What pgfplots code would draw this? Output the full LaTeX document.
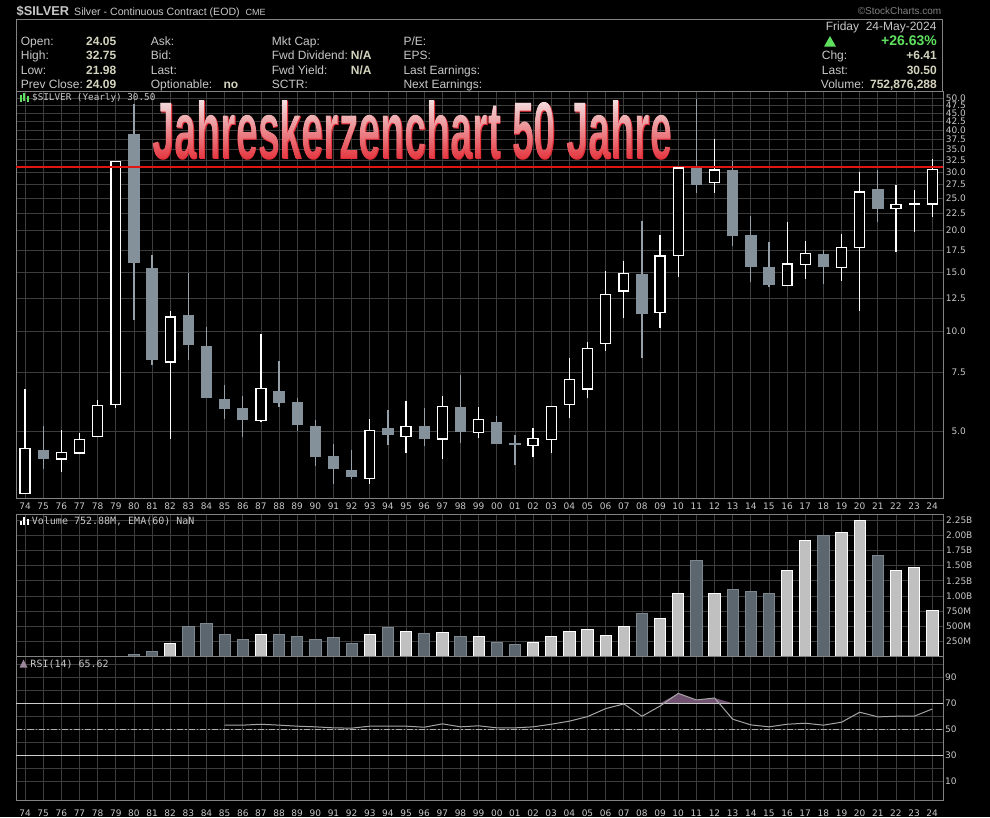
\documentclass[border=0pt]{standalone}
\usepackage{fontspec}
\setmainfont{Liberation Sans}
\newfontfamily\monofont{DejaVu Sans Mono}
\newfontfamily\dejavu{DejaVu Sans}
\usepackage{pgfplots}
\pgfplotsset{compat=1.18}
\usepackage{pgfplotstable}
\usetikzlibrary{fadings}

\definecolor{gridc}{RGB}{60,60,60}
\definecolor{framec}{RGB}{130,130,130}
\definecolor{labc}{RGB}{200,200,200}
\definecolor{valc}{RGB}{212,212,190}
\definecolor{bodyc}{RGB}{132,145,155}
\definecolor{wickc}{RGB}{150,160,168}
\definecolor{volup}{RGB}{192,192,192}
\definecolor{voldn}{RGB}{92,102,110}
\definecolor{voldnedge}{RGB}{125,135,142}
\definecolor{upgreen}{RGB}{95,225,95}
\definecolor{rsic}{RGB}{165,165,165}
\definecolor{rsifill}{RGB}{112,82,112}
\definecolor{refline}{RGB}{205,205,205}
\definecolor{resline}{RGB}{225,20,20}
\definecolor{titlered}{RGB}{228,46,56}
\definecolor{titlemid}{RGB}{234,118,124}
\definecolor{titlepink}{RGB}{242,228,228}

% yearly candles: open high low close, volume in billions
\pgfplotstableread{
yr   o     h     l     c     v
1974 3.25  6.71  3.25  4.44  0
1975 4.40  5.17  3.86  4.13  0
1976 4.13  5.03  3.77  4.31  0
1977 4.30  4.94  4.28  4.72  0
1978 4.81  6.22  4.80  5.98  0
1979 6.01  32.3  5.87  32.2  0
1980 39.0  48.0  10.8  16.0  0.03
1981 15.4  16.9  7.89  8.17  0.08
1982 8.07  11.46 4.73  11.0  0.21
1983 11.15 14.9  8.20  9.06  0.49
1984 9.00  10.3  6.27  6.29  0.54
1985 6.24  6.87  5.42  5.82  0.37
1986 5.85  6.37  4.81  5.39  0.28
1987 5.39  9.82  5.31  6.71  0.37
1988 6.59  8.13  5.92  6.08  0.37
1989 6.10  6.27  5.01  5.21  0.33
1990 5.18  5.39  3.93  4.19  0.28
1991 4.21  4.59  3.47  3.85  0.31
1992 3.82  4.39  3.59  3.65  0.21
1993 3.60  5.43  3.47  5.02  0.36
1994 5.11  5.78  4.54  4.88  0.48
1995 4.82  6.15  4.31  5.17  0.41
1996 5.18  5.86  4.52  4.74  0.38
1997 4.74  6.37  4.12  5.93  0.39
1998 5.90  7.36  4.61  4.97  0.33
1999 4.96  5.90  4.78  5.42  0.33
2000 5.31  5.55  4.57  4.58  0.23
2001 4.60  4.86  3.95  4.55  0.20
2002 4.53  5.11  4.17  4.76  0.24
2003 4.71  5.97  4.31  5.93  0.33
2004 6.01  8.27  5.46  7.15  0.41
2005 6.70  9.23  6.29  8.85  0.44
2006 9.17  15.1  8.71  12.86 0.35
2007 13.18 16.2  10.94 14.86 0.49
2008 14.86 21.3  8.27  11.2  0.71
2009 11.36 19.4  10.2  16.8  0.63
2010 16.85 30.9  14.5  30.8  1.04
2011 30.8  49.8  26.0  27.5  1.59
2012 27.9  37.7  26.0  30.4  1.04
2013 30.4  32.4  18.0  19.3  1.11
2014 19.35 22.1  14.0  15.5  1.07
2015 15.6  18.5  13.5  13.75 1.04
2016 13.7  21.2  13.7  15.9  1.42
2017 15.8  18.6  14.3  17.1  1.92
2018 17.0  17.5  13.8  15.5  2.00
2019 15.5  19.6  14.1  17.8  2.04
2020 17.8  30.0  11.5  26.1  2.24
2021 26.6  30.4  21.2  23.2  1.66
2022 23.3  27.4  17.2  24.0  1.42
2023 23.95 26.4  19.8  24.1  1.47
2024 24.05 32.75 21.98 30.50 0.753
}\silver

\pgfplotstableread{
yr   rsi
1985 53.1
1986 53.1
1987 53.8
1988 53.1
1989 52.3
1990 51.8
1991 51.0
1992 50.8
1993 52.3
1994 52.3
1995 52.3
1996 51.5
1997 54.1
1998 51.8
1999 52.6
2000 51.0
2001 51.0
2002 51.8
2003 53.8
2004 56.2
2005 59.7
2006 65.9
2007 69.5
2008 60.0
2009 67.9
2010 77.7
2011 72.6
2012 74.1
2013 57.7
2014 53.3
2015 51.8
2016 53.8
2017 54.6
2018 53.1
2019 55.4
2020 63.1
2021 59.5
2022 60.0
2023 60.0
2024 65.6
}\rsi

\pgfplotsset{
  panel/.style={
    scale only axis, width=927pt, anchor=south west,
    xmin=1973.5, xmax=2024.59,
    axis background/.style={fill=black},
    axis line style={draw=framec, line width=0.8pt},
    xtick={1974,...,2024},
    grid=major,
    major grid style={draw=gridc, line width=0.6pt},
    minor grid style={draw=gridc, line width=0.6pt},
    tick style={draw=none}, major tick length=0pt, minor tick length=0pt,
    yticklabel pos=right,
    ticklabel style={font=\dejavu\fontsize{9}{9}\selectfont, text=labc, inner sep=0pt},
    /pgf/number format/assume math mode=true,
  },
  years/.style={
    xticklabels={74,75,76,77,78,79,80,81,82,83,84,85,86,87,88,89,90,91,92,93,94,95,96,97,98,99,00,01,02,03,04,05,06,07,08,09,10,11,12,13,14,15,16,17,18,19,20,21,22,23,24},
    xticklabel style={yshift=-5pt},
  },
  up/.style={restrict expr to domain={\thisrow{c}-\thisrow{o}}{0:1000}},
  down/.style={restrict expr to domain={\thisrow{o}-\thisrow{c}}{0:1000}},
  cap/.style={up, only marks, mark=-, mark size=5.65pt, mark options={draw=white, line width=1.4pt}},
}

\newcommand\titletext{\resizebox{519pt}{58.4pt}{\bfseries Jahreskerzenchart 50 Jahre}}

\begin{tikzfadingfrompicture}[name=titlefade]
  \node[inner sep=0pt, text=transparent!0] {\titletext};
\end{tikzfadingfrompicture}

\begin{document}
\begin{tikzpicture}[x=1pt,y=1pt]
\path[use as bounding box] (0,0) rectangle (990,817);
\fill[black] (0,0) rectangle (990,817);

% header
\node[anchor=base west, inner sep=0pt, text=labc, font=\bfseries\fontsize{12.8}{13}\selectfont] at (16.5,801) {\$SILVER};
\node[anchor=base west, inner sep=0pt, text=labc, font=\fontsize{10.6}{11}\selectfont] at (74,801) {Silver - Continuous Contract (EOD)};
\node[anchor=base west, inner sep=0pt, text=labc, font=\fontsize{9}{9}\selectfont] at (245.5,801) {CME};
\node[anchor=base east, inner sep=0pt, text=framec, font=\fontsize{10}{10}\selectfont] at (941.5,802) {©StockCharts.com};
\draw[framec, line width=0.8pt] (16,726) rectangle (942.5,797.7);

\begin{scope}[every node/.style={anchor=base west, inner sep=0pt, text=labc, font=\fontsize{12}{12}\selectfont}]
\node at (20.7,771) {Open:};
\node at (20.7,757) {High:};
\node at (20.7,742.7) {Low:};
\node at (20.7,728.3) {Prev Close:};
\node at (150.7,771) {Ask:};
\node at (150.7,757) {Bid:};
\node at (150.7,742.7) {Last:};
\node at (150.7,728.3) {Optionable:};
\node at (271.7,771) {Mkt Cap:};
\node at (271.7,757) {Fwd Dividend:};
\node at (271.7,742.7) {Fwd Yield:};
\node at (271.7,728.3) {SCTR:};
\node at (403.3,771) {P/E:};
\node at (403.3,757) {EPS:};
\node at (403.3,742.7) {Last Earnings:};
\node at (403.3,728.3) {Next Earnings:};
\node at (821.7,757) {Chg:};
\node at (821.7,742.7) {Last:};
\node at (820.7,728.3) {Volume:};
\end{scope}
\begin{scope}[every node/.style={anchor=base west, inner sep=0pt, text=valc, font=\bfseries\fontsize{12}{12}\selectfont}]
\node at (86,771) {24.05};
\node at (86,757) {32.75};
\node at (86,742.7) {21.98};
\node at (86,728.3) {24.09};
\node at (223.3,728.3) {no};
\node at (350.7,757) {N/A};
\node at (350.7,742.7) {N/A};
\end{scope}
\begin{scope}[every node/.style={anchor=base east, inner sep=0pt, text=valc, font=\bfseries\fontsize{12}{12}\selectfont}]
\node at (937,757) {+6.41};
\node at (937,742.7) {30.50};
\node at (937,728.3) {752,876,288};
\end{scope}
\node[anchor=base east, inner sep=0pt, text=labc, font=\fontsize{12}{12}\selectfont] at (936.7,786.3) {Friday\ \ 24-May-2024};
\node[anchor=base east, inner sep=0pt, text=upgreen, font=\bfseries\fontsize{14}{14}\selectfont] at (937,771) {+26.63\%};
\fill[upgreen] (824,770.3) -- (836,770.3) -- (830,781) -- cycle;

% price panel
\begin{axis}[panel, years, at={(16pt,319pt)}, height=407pt,
  ymode=log, ymin=3.15, ymax=52.5,
  ytick={5,7.5,10,12.5,15,17.5,20,22.5,25,27.5,30,32.5,35,37.5,40,42.5,45,47.5,50},
  yticklabels={5.0,7.5,10.0,12.5,15.0,17.5,20.0,22.5,25.0,27.5,30.0,32.5,35.0,37.5,40.0,42.5,45.0,47.5,50.0},
  yticklabel style={anchor=east, xshift=23pt},
]
% wicks
\addplot[draw=none, up, error bars/.cd, y dir=plus, y explicit, error mark=none,
  error bar style={draw=white, line width=1.3pt}]
  table[x=yr, y=l, y error expr=\thisrow{h}-\thisrow{l}] {\silver};
\addplot[draw=none, down, error bars/.cd, y dir=plus, y explicit, error mark=none,
  error bar style={draw=wickc, line width=1.2pt}]
  table[x=yr, y=l, y error expr=\thisrow{h}-\thisrow{l}] {\silver};
% falling bodies
\addplot[draw=none, down, error bars/.cd, y dir=plus, y explicit, error mark=none,
  error bar style={draw=bodyc, line width=11.3pt}]
  table[x=yr, y=c, y error expr=\thisrow{o}-\thisrow{c}] {\silver};
% rising bodies (hollow)
\addplot[draw=none, up, error bars/.cd, y dir=plus, y explicit, error mark=none,
  error bar style={draw=white, line width=11.3pt}]
  table[x=yr, y=o, y error expr=\thisrow{c}-\thisrow{o}] {\silver};
\addplot[draw=none, up, error bars/.cd, y dir=plus, y explicit, error mark=none,
  error bar style={draw=black, line width=8.5pt}]
  table[x=yr, y=o, y error expr=\thisrow{c}-\thisrow{o}] {\silver};
\addplot[cap] table[x=yr, y=o] {\silver};
\addplot[cap] table[x=yr, y=c] {\silver};
% resistance line
\addplot[resline, line width=2pt] coordinates {(1973.5,31.1) (2024.59,31.1)};
\end{axis}

% volume panel
\begin{axis}[panel, at={(16pt,160.5pt)}, height=142.2pt,
  xticklabels={},
  ymin=0, ymax=2.347,
  ytick={0.25,0.5,0.75,1,1.25,1.5,1.75,2,2.25},
  yticklabels={250M,500M,750M,1.00B,1.25B,1.50B,1.75B,2.00B,2.25B},
  yticklabel style={anchor=west, xshift=3pt},
]
\addplot[ybar, bar width=11.3pt, bar shift=0pt, fill=volup, draw=white, line width=0.9pt,
  restrict expr to domain={(\thisrow{v}>0)*(\thisrow{c}>\thisrow{o})}{0.5:1.5}]
  table[x=yr, y=v] {\silver};
\addplot[ybar, bar width=11.3pt, bar shift=0pt, fill=voldn, draw=voldnedge, line width=0.9pt,
  restrict expr to domain={(\thisrow{v}>0)*(\thisrow{c}<\thisrow{o})}{0.5:1.5}]
  table[x=yr, y=v] {\silver};
\end{axis}

% RSI panel
\begin{axis}[panel, years, at={(16pt,17pt)}, height=143.5pt,
  xticklabel style={yshift=-4.3pt},
  ymin=-4.8, ymax=106.2,
  ytick={10,30,50,70,90},
  minor ytick={20,40,60,80,100},
  grid=both,
  yticklabel style={anchor=west, xshift=2pt},
]
% overbought area: RSI clamped at 70, closed along the 70 line
\addplot[fill=rsifill, draw=none] table[x=yr, y expr={max(\thisrow{rsi},70)}] {\rsi} -- cycle;
\addplot[refline, line width=1pt] coordinates {(1973.5,70) (2024.59,70)};
\addplot[refline, line width=1pt] coordinates {(1973.5,30) (2024.59,30)};
\addplot[refline!85!black, line width=1pt, dash pattern=on 6pt off 2pt on 1.5pt off 2pt] coordinates {(1973.5,50) (2024.59,50)};
\addplot[rsic, line width=1pt] table[x=yr, y=rsi] {\rsi};
\end{axis}

% panel captions
\node[anchor=base west, inner sep=0pt, text=labc, font=\monofont\fontsize{9.3}{10}\selectfont] at (32,716) {\$SILVER (Yearly) 30.50};
\node[anchor=base west, inner sep=0pt, text=labc, font=\monofont\fontsize{10}{10}\selectfont] at (31.7,292) {Volume 752.88M, EMA(60) NaN};
\node[anchor=base west, inner sep=0pt, text=labc, font=\monofont\fontsize{10}{10}\selectfont] at (30.3,149.3) {RSI(14) 65.62};
\fill[upgreen] (19.5,715) rectangle (21.5,722);
\fill[upgreen] (23,716) rectangle (25,724);
\fill[upgreen] (26.5,715) rectangle (28.5,721);
\fill[white] (19.5,292) rectangle (21.5,296);
\fill[white] (23,292) rectangle (25,300);
\fill[white] (26.5,292) rectangle (28.5,298);
\fill[rsifill!70!white] (19.5,149.3) -- (23.5,157.5) -- (27.5,149.3) -- cycle;

% title: real text in red, with a pink-to-red gradient laid over it through a text fading
\node[anchor=base west, inner sep=0pt, text=titlered] at (153,657.8) {\titletext};
\shade[path fading=titlefade, fit fading=false, fading transform={shift={(412.5,687)}},
  top color=titlepink, middle color=titlemid, bottom color=titlered]
  (150,655.5) rectangle (675,718.5);
\end{tikzpicture}
\end{document}
